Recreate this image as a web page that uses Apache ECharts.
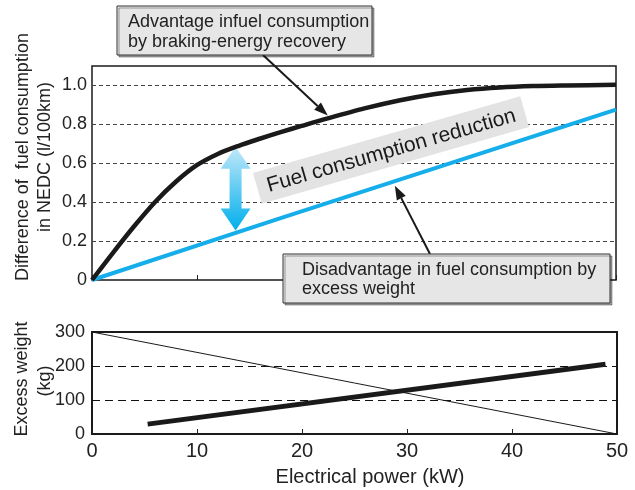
<!DOCTYPE html>
<html><head><meta charset="utf-8">
<script src="https://cdn.jsdelivr.net/npm/echarts@6/dist/echarts.min.js"></script>
<style>html,body{margin:0;padding:0;background:#fff}#c{width:635px;height:490px}</style>
</head><body><div id="c"></div>
<script>
// ---- data ----
const powerTicks = ['0','10','20','30','40','50'];
const topYTicks = ['0','0.2','0.4','0.6','0.8','1.0'];
const botYTicks = ['0','100','200','300'];
// advantage by braking-energy recovery (l/100km)
const advPower = [0, 2, 4, 6, 8, 10, 12, 14, 16, 18, 20, 22.5, 26, 29.4, 32.6, 35.8, 38.9, 42.1, 45.3, 50];
const advValue = [0, 0.14, 0.275, 0.4, 0.505, 0.59, 0.648, 0.69, 0.726, 0.76, 0.792, 0.831, 0.882, 0.924, 0.955, 0.977, 0.99, 0.997, 1.0, 1.003];
// disadvantage by excess weight (l/100km)
const disPower = [0, 18, 50];
const disValue = [0, 0.318, 0.876];
// excess weight (kg)
const thickPower = [5.3, 48.9];
const thickWeight = [29, 205];
const thinPower = [0, 50];
const thinWeight = [300, 0];
// annotation anchors (data space)
const reductionX = 13.7, reductionTop = 0.685, reductionBottom = 0.255;
const advArrowTip = [22.5, 0.845];
const disArrowTip = [28.9, 0.485];

const FONT = '"Liberation Sans", Arial, Helvetica, sans-serif';
const TXT = '#222';
const zip = (a, b) => a.map((v, i) => [v, b[i]]);

const chart = echarts.init(document.getElementById('c'), null, {renderer: 'canvas'});
chart.setOption({
  animation: false,
  backgroundColor: '#fff',
  textStyle: {fontFamily: FONT},
  grid: [
    {left: 92, top: 66, width: 524, height: 214, show: true, borderColor: '#1a1a1a', borderWidth: 1.5, backgroundColor: 'transparent'},
    {left: 92, top: 332, width: 525, height: 102, show: true, borderColor: '#1a1a1a', borderWidth: 2, backgroundColor: 'transparent'}
  ],
  xAxis: [
    {gridIndex: 0, type: 'value', min: 0, max: 50, interval: 10,
     axisLine: {show: false}, axisTick: {show: true, inside: true, length: 5, lineStyle: {color: '#222'}},
     axisLabel: {show: false}, splitLine: {show: false}},
    {gridIndex: 1, type: 'value', min: 0, max: 50, interval: 10,
     axisLine: {show: false}, axisTick: {show: true, inside: true, length: 5, lineStyle: {color: '#222'}},
     axisLabel: {fontSize: 20, color: TXT, margin: 7, fontFamily: FONT,
       formatter: v => powerTicks[Math.round(v / 10)] ?? ''},
     splitLine: {show: false}}
  ],
  yAxis: [
    {gridIndex: 0, type: 'value', min: 0, max: 1.1, interval: 0.2,
     axisLine: {show: false}, axisTick: {show: false},
     axisLabel: {fontSize: 18, color: TXT, margin: 5, fontFamily: FONT, showMaxLabel: false,
       formatter: v => (Math.abs(v / 0.2 - Math.round(v / 0.2)) < 1e-6 ? (topYTicks[Math.round(v / 0.2)] ?? '') : '')},
     splitLine: {show: true, showMinLine: false, showMaxLine: false, lineStyle: {type: [4, 3], color: '#444', width: 1}}},
    {gridIndex: 1, type: 'value', min: 0, max: 300, interval: 100,
     axisLine: {show: false}, axisTick: {show: false},
     axisLabel: {fontSize: 18, color: TXT, margin: 7, fontFamily: FONT,
       formatter: v => botYTicks[Math.round(v / 100)] ?? ''},
     splitLine: {show: true, showMinLine: false, showMaxLine: false, lineStyle: {type: [8, 5], color: '#111', width: 1}}}
  ],
  series: [
    {type: 'line', xAxisIndex: 0, yAxisIndex: 0, data: zip(disPower, disValue), showSymbol: false, symbol: 'none',
     lineStyle: {color: '#15aeea', width: 4}, z: 3},
    {type: 'line', xAxisIndex: 0, yAxisIndex: 0, data: zip(advPower, advValue), smooth: 0.3, showSymbol: false, symbol: 'none',
     lineStyle: {color: '#1a1a1a', width: 4.5}, z: 4},
    {type: 'line', xAxisIndex: 1, yAxisIndex: 1, data: zip(thinPower, thinWeight), showSymbol: false, symbol: 'none',
     lineStyle: {color: '#1a1a1a', width: 1}},
    {type: 'line', xAxisIndex: 1, yAxisIndex: 1, data: zip(thickPower, thickWeight), showSymbol: false, symbol: 'none',
     lineStyle: {color: '#1a1a1a', width: 5}}
  ]
});

const px = p => chart.convertToPixel({xAxisIndex: 0, yAxisIndex: 0}, p);

function arrow(from, to, headLen, headW) {
  const dx = to[0] - from[0], dy = to[1] - from[1];
  const L = Math.hypot(dx, dy), ux = dx / L, uy = dy / L;
  const bx = to[0] - ux * headLen, by = to[1] - uy * headLen;
  const nx = -uy, ny = ux;
  return [
    {type: 'line', z: 50, shape: {x1: from[0], y1: from[1], x2: bx, y2: by}, style: {stroke: '#1a1a1a', lineWidth: 2}},
    {type: 'polygon', z: 50, shape: {points: [to, [bx + nx * headW / 2, by + ny * headW / 2], [bx - nx * headW / 2, by - ny * headW / 2]]},
     style: {fill: '#1a1a1a'}}
  ];
}

function box(x, y, w, h, lines, tx, ly) {
  const els = [{type: 'rect', z: 60, shape: {x: x, y: y, width: w, height: h},
    style: {fill: '#e6e6e6', stroke: '#333', lineWidth: 1, shadowColor: 'rgba(0,0,0,0.35)', shadowOffsetX: 2, shadowOffsetY: 2, shadowBlur: 0}}];
  lines.forEach((t, i) => els.push({type: 'text', z: 61, style: {text: t, x: tx, y: ly[i], fontSize: 18, fontFamily: FONT, fill: TXT, align: 'left', verticalAlign: 'middle'}}));
  return els;
}

const redTop = px([reductionX, reductionTop]);
const redBot = px([reductionX, reductionBottom]);
const cx = redTop[0], ty = redTop[1], byy = redBot[1];
const hh = 22, hw = 15, sw = 6;
const dbl = {type: 'polygon', z: 1, shape: {points: [
  [cx, ty], [cx + hw, ty + hh], [cx + sw, ty + hh], [cx + sw, byy - hh], [cx + hw, byy - hh], [cx, byy],
  [cx - hw, byy - hh], [cx - sw, byy - hh], [cx - sw, ty + hh], [cx - hw, ty + hh]]},
  style: {fill: {type: 'linear', x: 0, y: 0, x2: 0, y2: 1, global: false,
    colorStops: [{offset: 0, color: '#c2e8f9'}, {offset: 1, color: '#00afec'}]}}};

const graphics = [].concat(
  [dbl],
  [{type: 'group', x: 391, y: 150, rotation: 16 * Math.PI / 180, z: 45, children: [
    {type: 'rect', shape: {x: -139, y: -16, width: 278, height: 32}, style: {fill: '#e3e3e3'}, z: 45},
    {type: 'text', style: {text: 'Fuel consumption reduction', x: 0, y: 1, align: 'center', verticalAlign: 'middle', fontSize: 21, fontFamily: FONT, fill: '#1a1a1a'}, z: 46}
  ]}],
  arrow([263, 55], px(advArrowTip), 14, 10),
  arrow([430, 254], px(disArrowTip), 14, 10),
  box(117, 6, 255, 49, ['Advantage infuel consumption', 'by braking-energy recovery'], 128, [22, 42]),
  box(283, 254, 327, 49, ['Disadvantage in fuel consumption by', 'excess weight'], 302, [270, 289]),
  [
    {type: 'text', z: 70, x: 23, y: 157, rotation: Math.PI / 2, style: {text: 'Difference of  fuel consumption', x: 0, y: 0, align: 'center', verticalAlign: 'middle', fontSize: 18, fontFamily: FONT, fill: TXT}},
    {type: 'text', z: 70, x: 45, y: 157, rotation: Math.PI / 2, style: {text: 'in NEDC (l/100km)', x: 0, y: 0, align: 'center', verticalAlign: 'middle', fontSize: 18, fontFamily: FONT, fill: TXT}},
    {type: 'text', z: 70, x: 22, y: 379, rotation: Math.PI / 2, style: {text: 'Excess weight', x: 0, y: 0, align: 'center', verticalAlign: 'middle', fontSize: 18, fontFamily: FONT, fill: TXT}},
    {type: 'text', z: 70, x: 45, y: 381, rotation: Math.PI / 2, style: {text: '(kg)', x: 0, y: 0, align: 'center', verticalAlign: 'middle', fontSize: 18, fontFamily: FONT, fill: TXT}},
    {type: 'text', z: 70, x: 370, y: 477, style: {text: 'Electrical power (kW)', x: 0, y: 0, align: 'center', verticalAlign: 'middle', fontSize: 20, fontFamily: FONT, fill: TXT}}
  ]
);
chart.setOption({graphic: {elements: graphics}});
</script>
</body></html>
